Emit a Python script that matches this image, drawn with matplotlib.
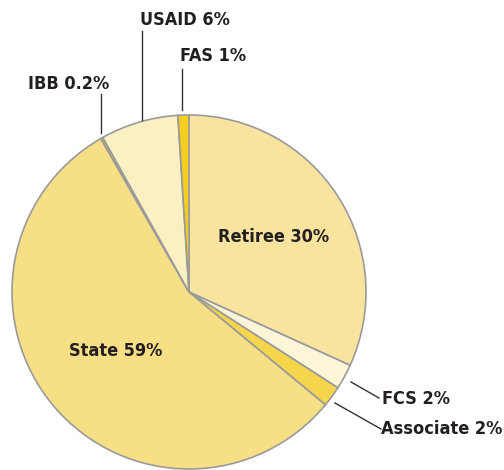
import matplotlib
matplotlib.use("Agg")
import matplotlib.pyplot as plt

# Shares as drawn in the picture (labels carry the rounded figures)
names = ['Retiree', 'FCS', 'Associate', 'State', 'IBB', 'USAID', 'FAS']
shares = [31.8, 2.3, 1.9, 55.7, 0.2, 7.1, 1.0]
label_text = ['Retiree 30%', 'FCS 2%', 'Associate 2%', 'State 59%',
              'IBB 0.2%', 'USAID 6%', 'FAS 1%']
colors = ['#F8E49E', '#FDF5D8', '#F5D54B', '#F7DF85', '#F2CB22', '#FBF0C2', '#F4CD1E']

W, H = 504, 470
fig = plt.figure(figsize=(W / 100, H / 100), dpi=100)
ax = fig.add_axes([0, 0, 1, 1])

def py(y):
    # convert from top-down pixel rows
    return H - y

ax.pie(shares, colors=colors, startangle=90, counterclock=False,
       center=(189, py(292)), radius=177, frame=True,
       wedgeprops=dict(edgecolor='#9A9A9A', linewidth=1.2))
ax.set_xlim(0, W)
ax.set_ylim(0, H)
ax.set_aspect('equal')
ax.axis('off')

font = dict(family='DejaVu Sans', fontstretch='condensed', fontweight='bold',
            fontsize=13, color='#231F20')

# inside labels
ax.text(274, py(237), label_text[0], ha='center', va='center', **font)
ax.text(116, py(351), label_text[3], ha='center', va='center', **font)

# outside labels
ax.text(382, py(399), label_text[1], ha='left', va='center', **font)
ax.text(381, py(429), label_text[2], ha='left', va='center', **font)
ax.text(140, py(20), label_text[5], ha='left', va='center', **font)
ax.text(180, py(56), label_text[6], ha='left', va='center', **font)
ax.text(28, py(84), label_text[4], ha='left', va='center', **font)

# leader lines
lc = dict(color='#333333', linewidth=1.0)
ax.plot([141.7, 141.7], [py(31), py(120)], **lc)
ax.plot([181.7, 181.7], [py(69), py(110)], **lc)
ax.plot([100.7, 100.7], [py(94), py(133)], **lc)
ax.plot([351, 379], [py(382), py(398)], **lc)
ax.plot([335, 381], [py(403), py(429)], **lc)

fig.savefig('out.png', dpi=100)
